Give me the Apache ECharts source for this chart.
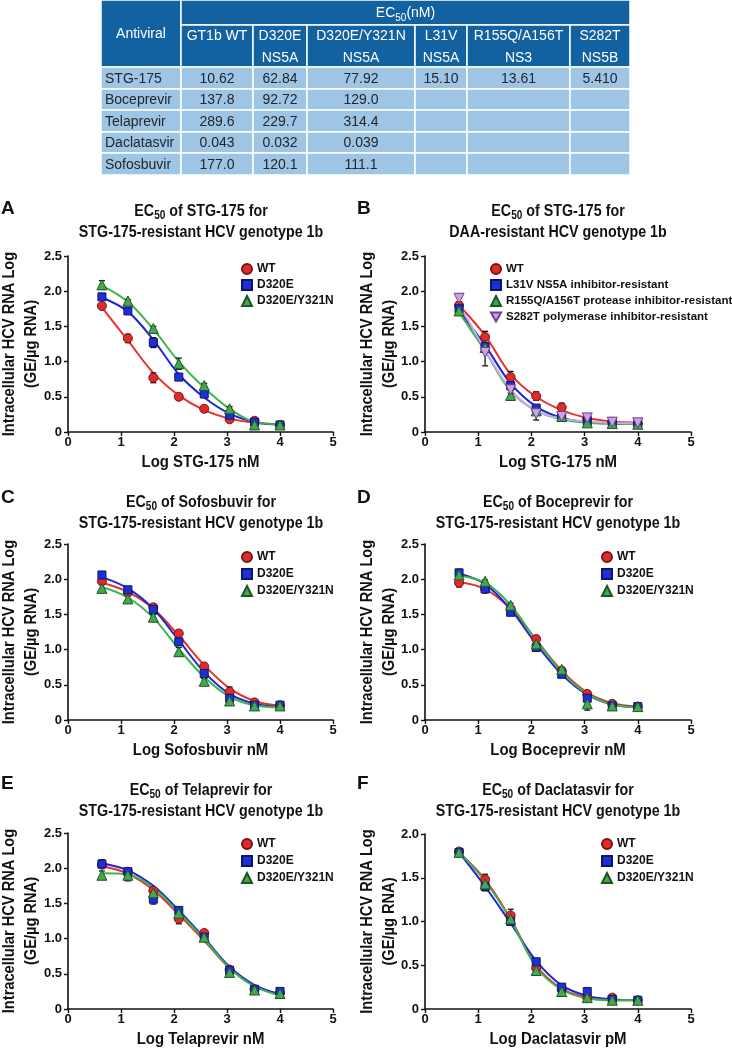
<!DOCTYPE html>
<html><head><meta charset="utf-8">
<script src="https://cdn.jsdelivr.net/npm/echarts@6/dist/echarts.min.js"></script>
<style>html,body{margin:0;padding:0;background:#fff}#c{width:732px;height:1048px}</style>
</head><body><div id="c"></div>
<script>
// ---------- Table data ----------
const antiviralHeader = 'Antiviral';
const ec50Header = ['EC', '50', '(nM)'];
const columnHeaders = ['GT1b WT', 'D320E\nNS5A', 'D320E/Y321N\nNS5A', 'L31V\nNS5A', 'R155Q/A156T\nNS3', 'S282T\nNS5B'];
const antivirals = ['STG-175', 'Boceprevir', 'Telaprevir', 'Daclatasvir', 'Sofosbuvir'];
const ec50STG175 = ['10.62', '62.84', '77.92', '15.10', '13.61', '5.410'];
const ec50Boceprevir = ['137.8', '92.72', '129.0', '', '', ''];
const ec50Telaprevir = ['289.6', '229.7', '314.4', '', '', ''];
const ec50Daclatasvir = ['0.043', '0.032', '0.039', '', '', ''];
const ec50Sofosbuvir = ['177.0', '120.1', '111.1', '', '', ''];
const tableRows = [ec50STG175, ec50Boceprevir, ec50Telaprevir, ec50Daclatasvir, ec50Sofosbuvir];

// ---------- Dose-response data (log concentration) ----------
const logDose = [0.64, 1.13, 1.61, 2.09, 2.57, 3.05, 3.52, 4.0];
const xTickValues = [0, 1, 2, 3, 4, 5];

// Panel A
const aWT = [1.79, 1.33, 0.77, 0.50, 0.33, 0.18, 0.16, 0.10];
const aWTerr = [0.04, 0.06, 0.07, 0.04, 0.04, 0.03, 0.02, 0.02];
const aWTfit = [1.77, 1.30, 0.84, 0.52, 0.31, 0.19, 0.13, 0.11];
const aD320E = [1.92, 1.72, 1.27, 0.78, 0.54, 0.24, 0.14, 0.10];
const aD320Eerr = [0.03, 0.03, 0.07, 0.04, 0.05, 0.04, 0.02, 0.02];
const aD320Efit = [1.91, 1.71, 1.31, 0.82, 0.49, 0.26, 0.14, 0.10];
const aDY = [2.09, 1.86, 1.47, 0.97, 0.66, 0.33, 0.10, 0.10];
const aDYerr = [0.06, 0.02, 0.03, 0.08, 0.03, 0.03, 0.02, 0.02];
const aDYfit = [2.08, 1.85, 1.46, 1.00, 0.63, 0.33, 0.14, 0.11];
// Panel B
const bWT = [1.80, 1.35, 0.78, 0.51, 0.35, 0.19, 0.14, 0.12];
const bWTerr = [0.05, 0.08, 0.08, 0.06, 0.06, 0.03, 0.02, 0.02];
const bWTfit = [1.80, 1.37, 0.82, 0.50, 0.31, 0.20, 0.15, 0.13];
const bL31V = [1.75, 1.21, 0.66, 0.34, 0.22, 0.15, 0.13, 0.12];
const bL31Verr = [0.04, 0.06, 0.05, 0.04, 0.03, 0.02, 0.02, 0.02];
const bL31Vfit = [1.72, 1.23, 0.69, 0.36, 0.20, 0.14, 0.12, 0.11];
const bR155Q = [1.72, 1.20, 0.52, 0.30, 0.22, 0.13, 0.12, 0.11];
const bR155Qerr = [0.05, 0.05, 0.07, 0.04, 0.03, 0.02, 0.02, 0.02];
const bR155Qfit = [1.70, 1.15, 0.58, 0.30, 0.18, 0.13, 0.12, 0.11];
const bS282T = [1.90, 1.13, 0.60, 0.26, 0.22, 0.20, 0.14, 0.13];
const bS282Terr = [0.06, 0.19, 0.05, 0.09, 0.04, 0.04, 0.03, 0.02];
const bS282Tfit = [1.82, 1.17, 0.60, 0.30, 0.19, 0.15, 0.13, 0.12];
// Panel C
const cWT = [1.97, 1.81, 1.60, 1.23, 0.76, 0.40, 0.25, 0.21];
const cWTerr = [0.04, 0.04, 0.05, 0.03, 0.04, 0.07, 0.03, 0.02];
const cWTfit = [1.95, 1.82, 1.58, 1.20, 0.78, 0.45, 0.27, 0.20];
const cD320E = [2.06, 1.85, 1.57, 1.11, 0.66, 0.31, 0.21, 0.21];
const cD320Eerr = [0.03, 0.03, 0.07, 0.04, 0.04, 0.05, 0.02, 0.02];
const cD320Efit = [2.03, 1.87, 1.58, 1.13, 0.68, 0.37, 0.23, 0.18];
const cDY = [1.87, 1.72, 1.46, 0.97, 0.55, 0.27, 0.20, 0.20];
const cDYerr = [0.06, 0.04, 0.04, 0.06, 0.04, 0.04, 0.02, 0.02];
const cDYfit = [1.89, 1.74, 1.45, 1.01, 0.61, 0.33, 0.21, 0.18];
// Panel D
const dWT = [1.95, 1.86, 1.58, 1.15, 0.70, 0.37, 0.23, 0.19];
const dWTerr = [0.06, 0.03, 0.04, 0.04, 0.04, 0.04, 0.03, 0.02];
const dWTfit = [1.96, 1.86, 1.58, 1.14, 0.70, 0.39, 0.24, 0.19];
const dD320E = [2.09, 1.86, 1.53, 1.03, 0.65, 0.31, 0.20, 0.19];
const dD320Eerr = [0.05, 0.03, 0.03, 0.03, 0.03, 0.05, 0.02, 0.02];
const dD320Efit = [2.08, 1.93, 1.57, 1.08, 0.65, 0.36, 0.22, 0.18];
const dDY = [2.06, 1.97, 1.63, 1.08, 0.72, 0.23, 0.20, 0.19];
const dDYerr = [0.03, 0.02, 0.03, 0.05, 0.03, 0.09, 0.02, 0.02];
const dDYfit = [2.05, 1.95, 1.63, 1.13, 0.68, 0.37, 0.22, 0.18];
// Panel E
const eWT = [2.05, 1.95, 1.68, 1.28, 1.08, 0.56, 0.28, 0.23];
const eWTerr = [0.05, 0.03, 0.05, 0.07, 0.04, 0.03, 0.03, 0.02];
const eWTfit = [2.03, 1.92, 1.69, 1.34, 0.97, 0.58, 0.33, 0.21];
const eD320E = [2.06, 1.95, 1.56, 1.40, 1.02, 0.55, 0.28, 0.25];
const eD320Eerr = [0.06, 0.03, 0.07, 0.04, 0.05, 0.03, 0.03, 0.02];
const eD320Efit = [2.07, 1.97, 1.75, 1.40, 1.01, 0.60, 0.34, 0.21];
const eDY = [1.90, 1.90, 1.65, 1.36, 1.02, 0.52, 0.27, 0.22];
const eDYerr = [0.06, 0.08, 0.05, 0.05, 0.03, 0.03, 0.03, 0.02];
const eDYfit = [1.93, 1.91, 1.72, 1.37, 0.99, 0.58, 0.32, 0.19];
// Panel F
const fWT = [1.80, 1.48, 1.07, 0.47, 0.22, 0.13, 0.13, 0.10];
const fWTerr = [0.03, 0.06, 0.07, 0.03, 0.03, 0.02, 0.02, 0.02];
const fWTfit = [1.79, 1.48, 1.03, 0.50, 0.23, 0.13, 0.10, 0.10];
const fD320E = [1.79, 1.40, 1.00, 0.54, 0.25, 0.20, 0.11, 0.10];
const fD320Eerr = [0.03, 0.05, 0.04, 0.03, 0.03, 0.03, 0.02, 0.02];
const fD320Efit = [1.79, 1.40, 0.98, 0.55, 0.27, 0.15, 0.11, 0.10];
const fDY = [1.79, 1.43, 1.03, 0.44, 0.20, 0.13, 0.10, 0.10];
const fDYerr = [0.03, 0.04, 0.04, 0.03, 0.03, 0.02, 0.02, 0.02];
const fDYfit = [1.79, 1.46, 1.02, 0.48, 0.22, 0.12, 0.10, 0.10];

const panelLetters = ['A', 'B', 'C', 'D', 'E', 'F'];
const panelDrugs = ['STG-175', 'STG-175', 'Sofosbuvir', 'Boceprevir', 'Telaprevir', 'Daclatasvir'];
const panelSubtitles = ['STG-175-resistant HCV genotype 1b', 'DAA-resistant HCV genotype 1b',
  'STG-175-resistant HCV genotype 1b', 'STG-175-resistant HCV genotype 1b',
  'STG-175-resistant HCV genotype 1b', 'STG-175-resistant HCV genotype 1b'];
const xAxisNames = ['Log STG-175 nM', 'Log STG-175 nM', 'Log Sofosbuvir nM', 'Log Boceprevir nM', 'Log Telaprevir nM', 'Log Daclatasvir pM'];
const yAxisMaxima = [2.5, 2.5, 2.5, 2.5, 2.5, 2.0];
const yAxisName = 'Intracellular HCV RNA Log\n(GE/\u00b5g RNA)';

// ---------- Styles & layout ----------
const SANS = '"Liberation Sans", Arial, Helvetica, sans-serif';
const INK = '#111';
const RED = { symbol: 'circle', size: 9, fill: '#e12a2a', border: '#7a1414', line: '#e8302f' };
const BLUE = { symbol: 'rect', size: 8, fill: '#1e2ed8', border: '#0c1470', line: '#1f24d8' };
const GREEN = { symbol: 'triangle', size: 10, fill: '#45a851', border: '#1d5524', line: '#3db54b' };
const PURPLE = { symbol: 'path://M0,0L10,0L5,9Z', size: 10, fill: '#c9a3e6', border: '#6b3f8c', line: '#c9a8ea' };

const panels = [
  { groups: [
    { name: 'WT', pts: aWT, err: aWTerr, fit: aWTfit, st: RED },
    { name: 'D320E', pts: aD320E, err: aD320Eerr, fit: aD320Efit, st: BLUE },
    { name: 'D320E/Y321N', pts: aDY, err: aDYerr, fit: aDYfit, st: GREEN }] },
  { groups: [
    { name: 'WT', pts: bWT, err: bWTerr, fit: bWTfit, st: RED },
    { name: 'L31V NS5A inhibitor-resistant', pts: bL31V, err: bL31Verr, fit: bL31Vfit, st: BLUE },
    { name: 'R155Q/A156T protease inhibitor-resistant', pts: bR155Q, err: bR155Qerr, fit: bR155Qfit, st: GREEN },
    { name: 'S282T polymerase inhibitor-resistant', pts: bS282T, err: bS282Terr, fit: bS282Tfit, st: PURPLE }] },
  { groups: [
    { name: 'WT', pts: cWT, err: cWTerr, fit: cWTfit, st: RED },
    { name: 'D320E', pts: cD320E, err: cD320Eerr, fit: cD320Efit, st: BLUE },
    { name: 'D320E/Y321N', pts: cDY, err: cDYerr, fit: cDYfit, st: GREEN }] },
  { groups: [
    { name: 'WT', pts: dWT, err: dWTerr, fit: dWTfit, st: RED },
    { name: 'D320E', pts: dD320E, err: dD320Eerr, fit: dD320Efit, st: BLUE },
    { name: 'D320E/Y321N', pts: dDY, err: dDYerr, fit: dDYfit, st: GREEN }] },
  { groups: [
    { name: 'WT', pts: eWT, err: eWTerr, fit: eWTfit, st: RED },
    { name: 'D320E', pts: eD320E, err: eD320Eerr, fit: eD320Efit, st: BLUE },
    { name: 'D320E/Y321N', pts: eDY, err: eDYerr, fit: eDYfit, st: GREEN }] },
  { groups: [
    { name: 'WT', pts: fWT, err: fWTerr, fit: fWTfit, st: RED },
    { name: 'D320E', pts: fD320E, err: fD320Eerr, fit: fD320Efit, st: BLUE },
    { name: 'D320E/Y321N', pts: fDY, err: fDYerr, fit: fDYfit, st: GREEN }] }
];

// layout of each panel (pixels)
const layout = [
  { left: 68, top: 256, w: 265, h: 176, cx: 201, ty: 201, ly: 199, lx: 1, nx: 20, legL: 241, legT: 262, gap: 2, fs: 12 },
  { left: 425, top: 256, w: 266, h: 176, cx: 558, ty: 201, ly: 199, lx: 357, nx: 378, legL: 490, legT: 262, gap: 2, fs: 11.5 },
  { left: 68, top: 544, w: 265, h: 176, cx: 201, ty: 492, ly: 488, lx: 1, nx: 20, legL: 241, legT: 550, gap: 3, fs: 12 },
  { left: 425, top: 544, w: 266, h: 176, cx: 558, ty: 492, ly: 488, lx: 357, nx: 378, legL: 601, legT: 550, gap: 3, fs: 12 },
  { left: 68, top: 833, w: 265, h: 176, cx: 201, ty: 780, ly: 774, lx: 1, nx: 20, legL: 241, legT: 837, gap: 3, fs: 12 },
  { left: 425, top: 834, w: 266, h: 175, cx: 558, ty: 780, ly: 774, lx: 357, nx: 378, legL: 601, legT: 837, gap: 3, fs: 12 }
];

const colEdges = [101, 181, 253, 307, 415, 467, 570, 630];
const rowEdges = [0, 25, 67, 89, 110, 132, 153, 175];
const DARK = '#1262a2';
const LIGHT = '#9ec4e6';

const graphic = [];
function cell(x0, y0, x1, y1, fill) {
  graphic.push({ type: 'rect', shape: { x: x0, y: y0, width: x1 - x0, height: y1 - y0 },
    style: { fill: fill, stroke: '#fff', lineWidth: 1.5 }, z: 1 });
}
// table header
cell(colEdges[0], rowEdges[0], colEdges[1], rowEdges[2], DARK);
graphic.push({ type: 'text', z: 2, style: { text: antiviralHeader, x: (colEdges[0] + colEdges[1]) / 2, y: 34,
  align: 'center', verticalAlign: 'middle', font: '14px ' + SANS, fill: '#fff' } });
cell(colEdges[1], rowEdges[0], colEdges[7], rowEdges[1], DARK);
graphic.push({ type: 'text', z: 2, style: {
  text: '{a|' + ec50Header[0] + '}{s|' + ec50Header[1] + '}{a|' + ec50Header[2] + '}',
  x: (colEdges[1] + colEdges[7]) / 2, y: 3, align: 'center', verticalAlign: 'top',
  rich: { a: { fontSize: 14, fontFamily: SANS, fill: '#fff', lineHeight: 20 },
          s: { fontSize: 10, fontFamily: SANS, fill: '#fff', lineHeight: 11, verticalAlign: 'bottom' } } } });
columnHeaders.forEach((h, j) => {
  cell(colEdges[j + 1], rowEdges[1], colEdges[j + 2], rowEdges[2], DARK);
  graphic.push({ type: 'text', z: 2, style: { text: h, x: (colEdges[j + 1] + colEdges[j + 2]) / 2, y: 25,
    align: 'center', verticalAlign: 'top', font: '14px ' + SANS, lineHeight: 22, fill: '#fff' } });
});
antivirals.forEach((name, r) => {
  const y0 = rowEdges[r + 2], y1 = rowEdges[r + 3];
  cell(colEdges[0], y0, colEdges[1], y1, LIGHT);
  graphic.push({ type: 'text', z: 2, style: { text: name, x: colEdges[0] + 4, y: (y0 + y1) / 2 + 1,
    align: 'left', verticalAlign: 'middle', font: '14px ' + SANS, fill: '#262626' } });
  tableRows[r].forEach((v, j) => {
    cell(colEdges[j + 1], y0, colEdges[j + 2], y1, LIGHT);
    if (v) graphic.push({ type: 'text', z: 2, style: { text: v, x: (colEdges[j + 1] + colEdges[j + 2]) / 2,
      y: (y0 + y1) / 2 + 1, align: 'center', verticalAlign: 'middle', font: '14px ' + SANS, fill: '#262626' } });
  });
});

// panel titles, letters, axis names (condensed via horizontal scale)
layout.forEach((L, i) => {
  graphic.push({ type: 'text', z: 2, x: L.cx, y: L.ty, scaleX: 0.84, style: {
    text: '{a|EC}{s|50}{a| of ' + panelDrugs[i] + ' for}\n{a|' + panelSubtitles[i] + '}',
    x: 0, y: 0, align: 'center', verticalAlign: 'top',
    rich: { a: { fontSize: 17, fontWeight: 'bold', fontFamily: SANS, fill: INK, lineHeight: 21 },
            s: { fontSize: 12, fontWeight: 'bold', fontFamily: SANS, fill: INK, lineHeight: 12, verticalAlign: 'bottom' } } } });
  graphic.push({ type: 'text', z: 2, style: { text: panelLetters[i], x: L.lx, y: L.ly,
    align: 'left', verticalAlign: 'top', font: 'bold 19px ' + SANS, fill: INK } });
  graphic.push({ type: 'text', z: 2, x: L.nx, y: L.top + L.h / 2, rotation: Math.PI / 2, scaleX: 0.86,
    style: { text: yAxisName, x: 0, y: 0, align: 'center', verticalAlign: 'middle',
      font: 'bold 17px ' + SANS, lineHeight: 22, fill: INK } });
  graphic.push({ type: 'text', z: 2, x: L.left + L.w / 2, y: L.top + L.h + 30, scaleX: 0.88,
    style: { text: xAxisNames[i], x: 0, y: 0, align: 'center', verticalAlign: 'middle',
      font: 'bold 17px ' + SANS, fill: INK } });
});

const grid = layout.map(L => ({ left: L.left, top: L.top, width: L.w, height: L.h, outerBoundsMode: 'none', containLabel: false }));
const axisFont = { fontFamily: SANS, fontWeight: 'bold', fontSize: 13, color: INK };
const xAxis = layout.map((L, i) => ({
  gridIndex: i, type: 'value', min: xTickValues[0], max: xTickValues[xTickValues.length - 1], interval: 1,
  axisLine: { show: true, onZero: false, lineStyle: { color: INK, width: 1.6 } },
  axisTick: { show: true, inside: false, length: 4, lineStyle: { color: INK, width: 1.4 } },
  axisLabel: Object.assign({ show: true, margin: 4 }, axisFont),
  splitLine: { show: false }
}));
const yAxis = layout.map((L, i) => ({
  gridIndex: i, type: 'value', min: 0, max: yAxisMaxima[i], interval: 0.5,
  axisLine: { show: true, onZero: false, lineStyle: { color: INK, width: 1.6 } },
  axisTick: { show: true, inside: false, length: 4, lineStyle: { color: INK, width: 1.4 } },
  axisLabel: Object.assign({ show: true, margin: 6, formatter: v => (v === 0 ? '0' : v.toFixed(1)) }, axisFont),
  splitLine: { show: false }
}));

const series = [];
panels.forEach((p, i) => {
  p.groups.forEach((g, k) => {
    series.push({ type: 'line', name: 'fit-' + i + '-' + k, xAxisIndex: i, yAxisIndex: i, z: 2 + k * 0.01,
      data: logDose.map((x, n) => [x, g.fit[n]]), showSymbol: false, symbol: 'none', smooth: 0.35,
      silent: true, lineStyle: { color: g.st.line, width: 2 } });
  });
  p.groups.forEach((g, k) => {
    series.push({ type: 'custom', name: 'err-' + i + '-' + k, xAxisIndex: i, yAxisIndex: i, z: 3, silent: true,
      data: logDose.map((x, n) => [x, g.pts[n], g.err[n]]),
      renderItem: (params, api) => {
        const x = api.value(0), y = api.value(1), e = api.value(2);
        const p1 = api.coord([x, y + e]), p2 = api.coord([x, y - e]);
        const w = 3, st = { stroke: '#151515', lineWidth: 1.3 };
        return { type: 'group', children: [
          { type: 'line', shape: { x1: p1[0], y1: p1[1], x2: p2[0], y2: p2[1] }, style: st },
          { type: 'line', shape: { x1: p1[0] - w, y1: p1[1], x2: p1[0] + w, y2: p1[1] }, style: st },
          { type: 'line', shape: { x1: p2[0] - w, y1: p2[1], x2: p2[0] + w, y2: p2[1] }, style: st }] };
      } });
  });
  p.groups.forEach((g, k) => {
    series.push({ type: 'scatter', name: g.name, xAxisIndex: i, yAxisIndex: i, z: 4 + k * 0.01,
      data: logDose.map((x, n) => [x, g.pts[n]]), symbol: g.st.symbol, symbolSize: g.st.size,
      itemStyle: { color: g.st.fill, borderColor: g.st.border, borderWidth: 1, opacity: 1 } });
  });
});

const legend = layout.map((L, i) => ({
  data: panels[i].groups.map(g => g.name), left: L.legL, top: L.legT, orient: 'vertical',
  itemGap: L.gap, itemWidth: 10, itemHeight: 10, padding: 0, selectedMode: false,
  textStyle: { fontFamily: SANS, fontWeight: 'bold', fontSize: L.fs, color: INK, lineHeight: 14 }
}));

const chart = echarts.init(document.getElementById('c'), null, { renderer: 'canvas' });
chart.setOption({ animation: false, backgroundColor: '#fff', grid, xAxis, yAxis, series, legend, graphic });
</script></body></html>
